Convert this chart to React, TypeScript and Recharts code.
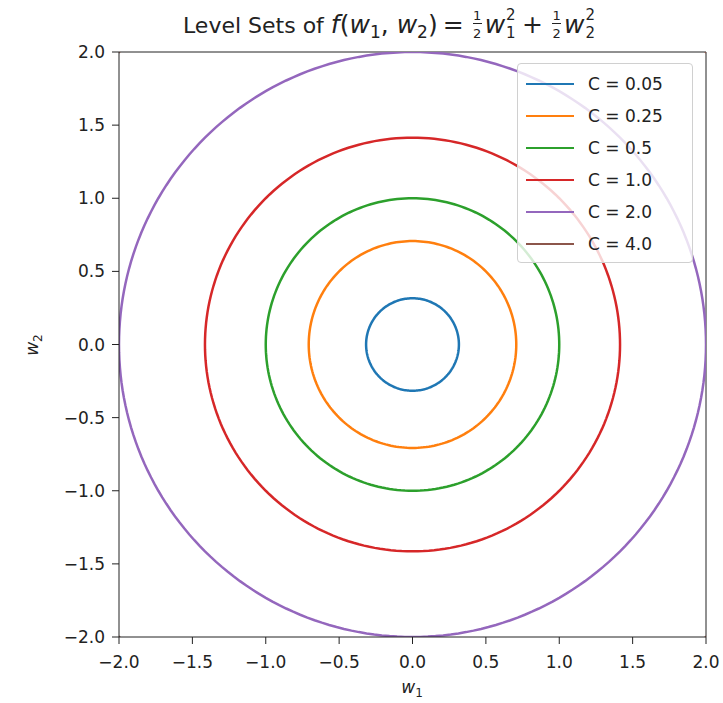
import React from "react";
import { LineChart, Line, XAxis, YAxis, ReferenceLine, Legend } from "recharts";

const levels = [0.05, 0.25, 0.5, 1.0, 2.0, 4.0];
const levelLabels = ["C = 0.05", "C = 0.25", "C = 0.5", "C = 1.0", "C = 2.0", "C = 4.0"];
const colors = ["#1f77b4", "#ff7f0e", "#2ca02c", "#d62728", "#9467bd", "#8c564b"];
const axisTicks = [-2, -1.5, -1, -0.5, 0, 0.5, 1, 1.5, 2];
const STEPS = 240;

// level set of f(w1,w2) = 0.5 w1^2 + 0.5 w2^2 at value C: circle of radius sqrt(2C)
const levelSet = (c: number) => {
  const r = Math.sqrt(2 * c);
  const pts: { x: number; y: number }[] = [];
  for (let i = 0; i <= STEPS; i++) {
    const t = (2 * Math.PI * i) / STEPS;
    pts.push({ x: r * Math.cos(t), y: r * Math.sin(t) });
  }
  return pts;
};

const series = levels.map((c, i) => ({ name: levelLabels[i], color: colors[i], data: levelSet(c) }));

const FONT = "'DejaVu Sans', sans-serif";
const fmt = (v: number) => v.toFixed(1).replace("-", "\u2212");

const Frac = () => (
  <span style={{ display: "inline-block", position: "relative", width: 11, height: 1, margin: "0 2px 0 3px" }}>
    <span style={{ position: "absolute", left: 0, right: 0, bottom: 11, textAlign: "center", fontSize: 13, lineHeight: "13px" }}>1</span>
    <span style={{ position: "absolute", left: 1, right: 1, bottom: 9, borderTop: "1.2px solid #222" }} />
    <span style={{ position: "absolute", left: 0, right: 0, bottom: -7, textAlign: "center", fontSize: 13, lineHeight: "13px" }}>2</span>
  </span>
);
const WSq = ({ sub }: { sub: string }) => (
  <span>
    <i>w</i>
    <span style={{ display: "inline-block", position: "relative", width: 12, height: 1 }}>
      <span style={{ position: "absolute", left: 1, bottom: 10, fontSize: 15, lineHeight: "15px" }}>2</span>
      <span style={{ position: "absolute", left: 1, bottom: -8, fontSize: 15, lineHeight: "15px" }}>{sub}</span>
    </span>
  </span>
);
const Sub = ({ t }: { t: string }) => (
  <span style={{ fontSize: 17, position: "relative", top: 5 }}>{t}</span>
);
const Op = ({ t }: { t: string }) => <span style={{ margin: "0 5px" }}>{t}</span>;

const LegendBox = (props: any) => {
  const payload = props.payload || [];
  return (
    <div style={{ width: 176, height: 200, border: "1px solid #d0d0d0", borderRadius: 4, background: "rgba(255,255,255,0.8)", boxSizing: "border-box", paddingTop: 4, fontFamily: FONT, fontSize: 17, color: "#222" }}>
      {payload.map((p: any, i: number) => (
        <div key={i} style={{ display: "flex", alignItems: "center", height: 32 }}>
          <span style={{ display: "inline-block", width: 48, height: 2.5, background: p.color, marginLeft: 8, marginRight: 14 }} />
          <span>{p.value}</span>
        </div>
      ))}
    </div>
  );
};

export default function App() {
  return (
    <div style={{ position: "absolute", left: 0, top: 0, width: 723, height: 703, background: "#fff" }}>
      <LineChart width={723} height={703} margin={{ top: 52, right: 17, bottom: 36, left: 59 }}>
        <XAxis
          dataKey="x"
          type="number"
          domain={[-2, 2]}
          ticks={axisTicks}
          allowDataOverflow
          tickFormatter={fmt}
          tickSize={7}
          tickMargin={12}
          height={30}
          stroke="#222"
          tick={{ fill: "#222", fontSize: 17, fontFamily: FONT }}
          label={{
            content: () => (
              <text x={412} y={693} textAnchor="middle" fontFamily={FONT} fontSize={17} fill="#222">
                <tspan fontStyle="italic">w</tspan>
                <tspan fontSize={12} dy={4}>1</tspan>
              </text>
            ),
          }}
        />
        <YAxis
          dataKey="y"
          type="number"
          domain={[-2, 2]}
          ticks={axisTicks}
          allowDataOverflow
          tickFormatter={fmt}
          tickSize={7}
          tickMargin={7}
          width={60}
          stroke="#222"
          tick={{ fill: "#222", fontSize: 17, fontFamily: FONT }}
          label={{
            content: () => (
              <text x={38} y={345} textAnchor="middle" transform="rotate(-90 38 345)" fontFamily={FONT} fontSize={17} fill="#222">
                <tspan fontStyle="italic">w</tspan>
                <tspan fontSize={12} dy={4}>2</tspan>
              </text>
            ),
          }}
        />
        <ReferenceLine x={2} stroke="#222" strokeWidth={1} />
        <ReferenceLine y={2} stroke="#222" strokeWidth={1} />
        {series.map((s) => (
          <Line
            key={s.name}
            name={s.name}
            data={s.data}
            dataKey="y"
            type="linear"
            stroke={s.color}
            strokeWidth={2.5}
            dot={false}
            activeDot={false}
            isAnimationActive={false}
          />
        ))}
        <Legend
          layout="vertical"
          verticalAlign="middle"
          align="center"
          content={<LegendBox />}
          wrapperStyle={{ position: "absolute", left: 517, top: 63, width: 176, right: "auto", bottom: "auto" }}
        />
      </LineChart>
      <div style={{ position: "absolute", left: 183, top: 12, whiteSpace: "nowrap", fontFamily: FONT, fontSize: 22, lineHeight: "26px", color: "#222" }}>
        Level Sets of{" "}
        <span style={{ fontSize: 25 }}>
          <i>f</i>(<i>w</i><Sub t="1" />, <i>w</i><Sub t="2" />)<Op t="=" /><Frac /><WSq sub="1" /><Op t="+" /><Frac /><WSq sub="2" />
        </span>
      </div>
    </div>
  );
}
